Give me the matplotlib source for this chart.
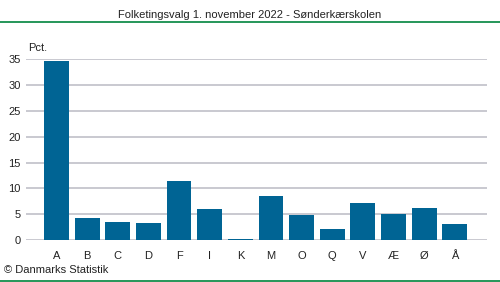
import matplotlib.pyplot as plt
from matplotlib.lines import Line2D

plt.rcParams['font.family'] = ['Liberation Sans', 'DejaVu Sans']

parties = ['A', 'B', 'C', 'D', 'F', 'I', 'K', 'M', 'O', 'Q', 'V', 'Æ', 'Ø', 'Å']
pct = [34.7, 4.3, 3.5, 3.3, 11.4, 6.0, 0.2, 8.5, 4.9, 2.1, 7.2, 5.1, 6.2, 3.1]
yticks = [0, 5, 10, 15, 20, 25, 30, 35]

W, H = 500, 282
fig = plt.figure(figsize=(5, 2.82), dpi=100)
# axes from x=26..487, y(0)=240 .. y(35)=59.3
ax = fig.add_axes([26 / W, 1 - 240 / H, (487 - 26) / W, (240 - 59.3) / H])

ax.bar(range(len(parties)), pct, width=0.81, color='#006494', zorder=3)
ax.set_xlim(-0.995, 14.05)
ax.set_ylim(0, 35)
ax.set_yticks(yticks)
ax.set_xticks(range(len(parties)))
ax.set_xticklabels(parties)
ax.grid(axis='y', color='#c0c0c8', linewidth=1.2, zorder=0)
ax.tick_params(length=0, labelsize=8, colors='#222222')
ax.tick_params(axis='x', pad=8)
ax.tick_params(axis='y', pad=4)
for s in ax.spines.values():
    s.set_visible(False)

ax.text(-0.93, 36.2, 'Pct.', fontsize=8, ha='left', va='bottom', color='#222222',
        clip_on=False)

fig.text(0.5, 1 - 15 / H, 'Folketingsvalg 1. november 2022 - Sønderkærskolen',
         ha='center', va='center', fontsize=8, color='#222222')
fig.text(4 / W, 1 - 270 / H, '© Danmarks Statistik', ha='left', va='center',
         fontsize=8, color='#222222')

fig.add_artist(Line2D([0, 1], [1 - 22 / H, 1 - 22 / H], color='#00843d',
                      linewidth=1.2, transform=fig.transFigure))
fig.add_artist(Line2D([0, 1], [1 - 281 / H, 1 - 281 / H], color='#00843d',
                      linewidth=1.2, transform=fig.transFigure))

fig.savefig('out.png', dpi=100)
